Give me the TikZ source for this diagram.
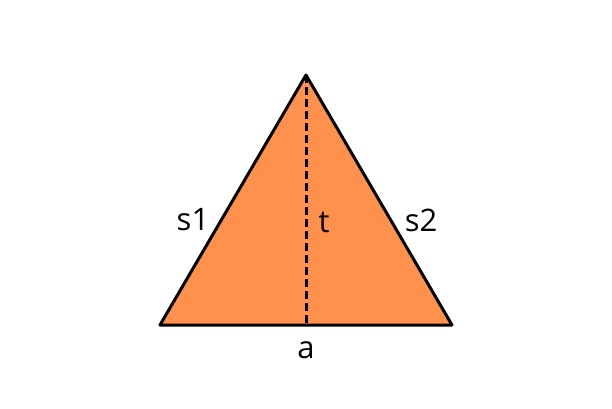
\documentclass[tikz,border=0pt]{standalone}
\usepackage{fontspec}
\setmainfont{Open Sans}
\usetikzlibrary{positioning,calc}
\definecolor{triorange}{HTML}{FF914D}

\begin{document}
\begin{tikzpicture}[x=1pt, y=-1pt, font=\fontsize{31}{37}\selectfont,
    edge/.style={draw=black, line width=3pt, line join=round},
    height/.style={draw=black, line width=3pt, dash pattern=on 8pt off 4pt},
    lbl/.style={inner sep=0pt, anchor=center}]
  \useasboundingbox (0,0) rectangle (612,408);
  \coordinate (apex) at (306,75);
  \coordinate (bl) at (160,325);
  \coordinate (br) at (452,325);
  \coordinate (foot) at (306,325);
  \path[fill=triorange, edge] (apex) -- (bl) -- (br) -- cycle;
  \draw[height] (apex) -- (foot);
  \node[lbl] (s1) at (193,220) {s1};
  \node[lbl] (t) at (324,222) {t};
  \node[lbl] (s2) at (421,220) {s2};
  \node[lbl] (a) at (306,350) {a};
\end{tikzpicture}
\end{document}
